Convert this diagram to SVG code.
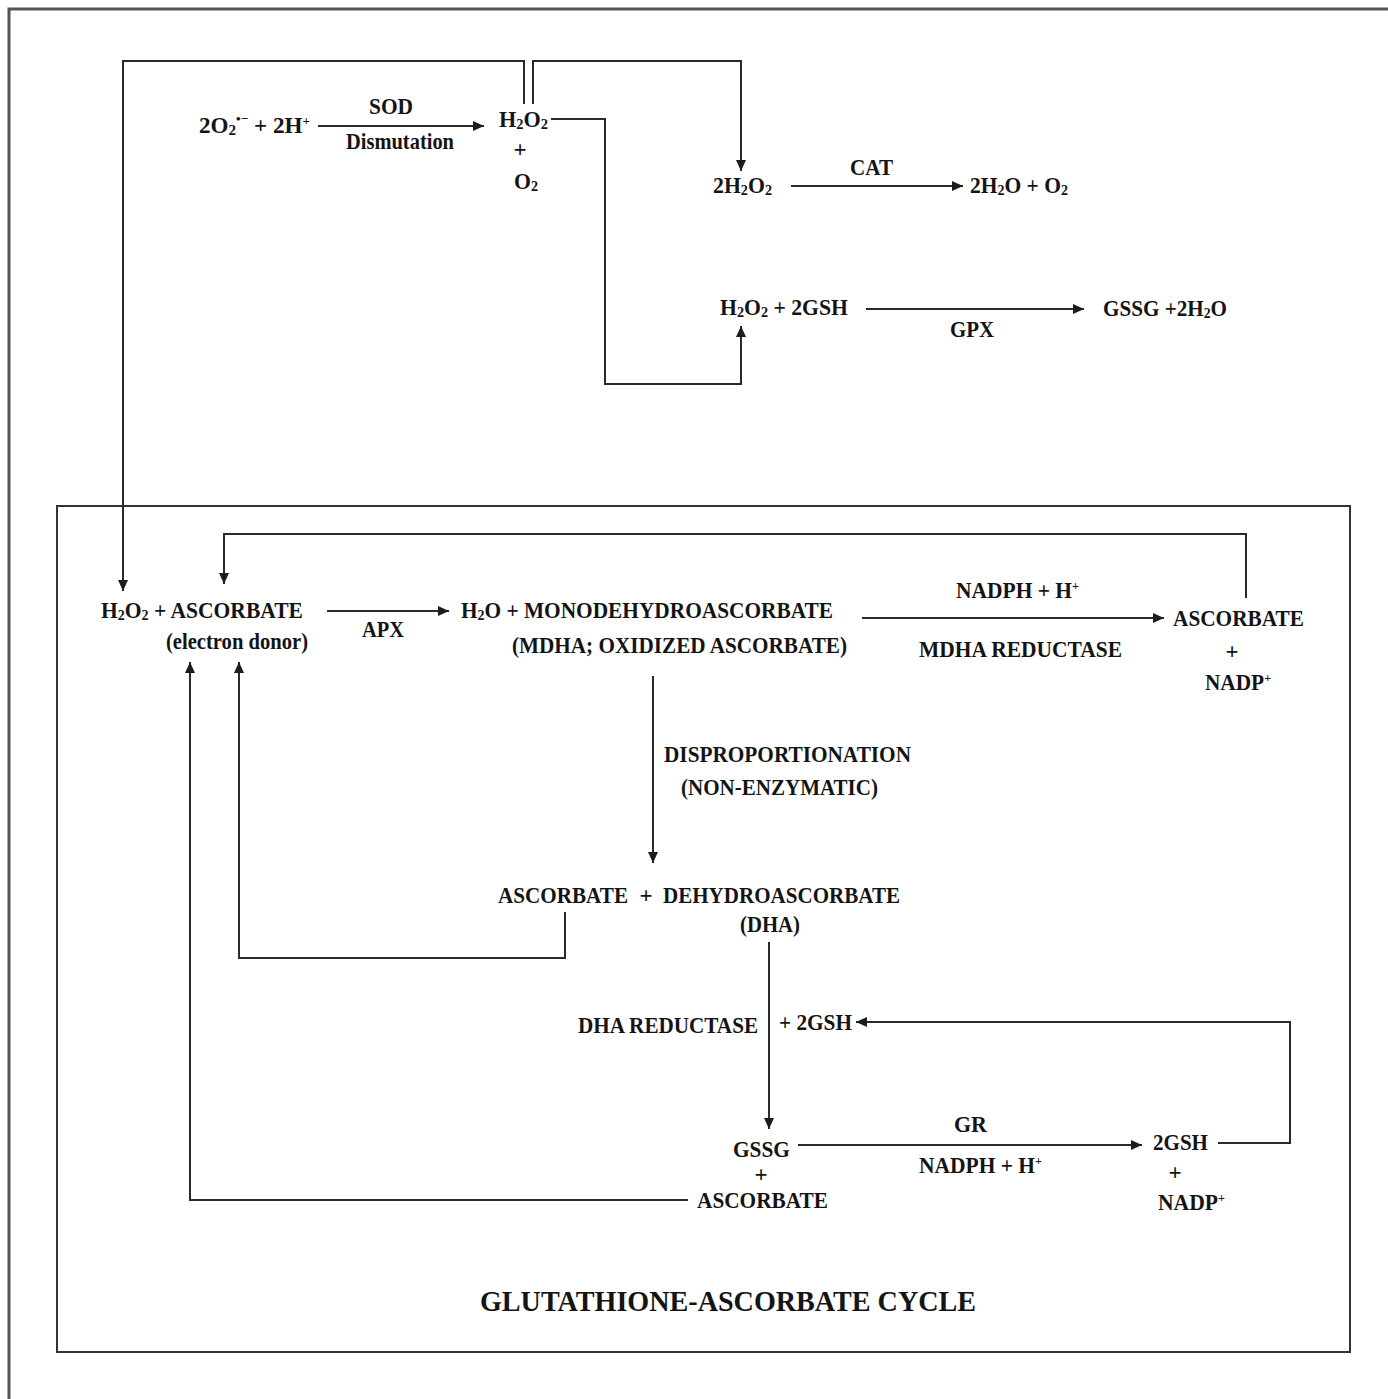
<svg xmlns="http://www.w3.org/2000/svg" width="1388" height="1399" viewBox="0 0 1388 1399">
  <style>
    .t { font-family: "Liberation Serif", "Times New Roman", serif; font-weight: bold; font-size: 23px; fill: #141414; }
    .s { font-size: 15px; }
    .p { font-size: 13px; }
    .title { font-size: 29px; }
    .ar { fill: none; stroke: #2a2a2a; stroke-width: 2; marker-end: url(#head); }
    .frame { fill: none; stroke: #555; stroke-width: 3; }
    .box { fill: none; stroke: #333; stroke-width: 2; }
  </style>
  <defs>
    <marker id="head" markerUnits="userSpaceOnUse" markerWidth="12" markerHeight="10" refX="11" refY="5" orient="auto">
      <path d="M0,0 L11,5 L0,10 z" fill="#1c1c1c"/>
    </marker>
  </defs>

  <rect width="1388" height="1399" fill="#ffffff"/>

  <!-- page frame (top and left edges only) -->
  <path class="frame" d="M9,1399 V9 H1388"/>

  <!-- glutathione-ascorbate cycle panel -->
  <rect id="cycle-panel" class="box" x="57" y="506" width="1293" height="846"/>

  <!-- connectors -->
  <g id="connectors">
    <path class="ar" d="M318,126 H484"/>
    <path class="ar" d="M524,104 V61 H123 V591"/>
    <path class="ar" d="M533,104 V61 H741 V171"/>
    <path class="ar" d="M551,119 H605 V384 H741 V326"/>
    <path class="ar" d="M791,186 H963"/>
    <path class="ar" d="M866,309 H1084"/>
    <path class="ar" d="M327,611 H449"/>
    <path class="ar" d="M862,618 H1164"/>
    <path class="ar" d="M1246,598 V534 H224 V584"/>
    <path class="ar" d="M653,676 V863"/>
    <path class="ar" d="M565,912 V958 H239 V662"/>
    <path class="ar" d="M769,942 V1129"/>
    <path class="ar" d="M1218,1143 H1290 V1022 H856"/>
    <path class="ar" d="M798,1145 H1142"/>
    <path class="ar" d="M688,1200 H190 V662"/>
  </g>

  <!-- superoxide dismutation -->
  <g id="superoxide">
    <text class="t" x="199" y="133" textLength="111" lengthAdjust="spacingAndGlyphs">2O<tspan class="s" dy="2">2</tspan><tspan class="p" dy="-12">•−</tspan><tspan dy="10"> + 2H</tspan><tspan class="p" dy="-8">+</tspan></text>
  </g>
  <g id="sod-label">
    <text class="t" x="369" y="114" textLength="44" lengthAdjust="spacingAndGlyphs">SOD</text>
    <text class="t" x="346" y="149" textLength="108" lengthAdjust="spacingAndGlyphs">Dismutation</text>
  </g>
  <g id="h2o2-o2">
    <text class="t" x="499" y="127" textLength="49" lengthAdjust="spacingAndGlyphs">H<tspan class="s" dy="2">2</tspan><tspan dy="-2">O</tspan><tspan class="s" dy="2">2</tspan></text>
    <text class="t" x="520" y="157" text-anchor="middle">+</text>
    <text class="t" x="514" y="189" textLength="24" lengthAdjust="spacingAndGlyphs">O<tspan class="s" dy="2">2</tspan></text>
  </g>

  <!-- catalase branch -->
  <g id="cat-substrate">
    <text class="t" x="713" y="193" textLength="59" lengthAdjust="spacingAndGlyphs">2H<tspan class="s" dy="2">2</tspan><tspan dy="-2">O</tspan><tspan class="s" dy="2">2</tspan></text>
  </g>
  <g id="cat-label">
    <text class="t" x="850" y="175" textLength="43" lengthAdjust="spacingAndGlyphs">CAT</text>
  </g>
  <g id="cat-product">
    <text class="t" x="970" y="193" textLength="98" lengthAdjust="spacingAndGlyphs">2H<tspan class="s" dy="2">2</tspan><tspan dy="-2">O + O</tspan><tspan class="s" dy="2">2</tspan></text>
  </g>

  <!-- glutathione peroxidase branch -->
  <g id="gpx-substrate">
    <text class="t" x="720" y="315" textLength="128" lengthAdjust="spacingAndGlyphs">H<tspan class="s" dy="2">2</tspan><tspan dy="-2">O</tspan><tspan class="s" dy="2">2</tspan><tspan dy="-2"> + 2GSH</tspan></text>
  </g>
  <g id="gpx-label">
    <text class="t" x="950" y="337" textLength="44" lengthAdjust="spacingAndGlyphs">GPX</text>
  </g>
  <g id="gpx-product">
    <text class="t" x="1103" y="316" textLength="124" lengthAdjust="spacingAndGlyphs">GSSG +2H<tspan class="s" dy="2">2</tspan><tspan dy="-2">O</tspan></text>
  </g>

  <!-- ascorbate peroxidase -->
  <g id="apx-substrate">
    <text class="t" x="101" y="618" textLength="202" lengthAdjust="spacingAndGlyphs">H<tspan class="s" dy="2">2</tspan><tspan dy="-2">O</tspan><tspan class="s" dy="2">2</tspan><tspan dy="-2"> + ASCORBATE</tspan></text>
    <text class="t" x="166" y="649" textLength="142" lengthAdjust="spacingAndGlyphs">(electron donor)</text>
  </g>
  <g id="apx-label">
    <text class="t" x="362" y="637" textLength="42" lengthAdjust="spacingAndGlyphs">APX</text>
  </g>
  <g id="mdha">
    <text class="t" x="461" y="618" textLength="372" lengthAdjust="spacingAndGlyphs">H<tspan class="s" dy="2">2</tspan><tspan dy="-2">O + MONODEHYDROASCORBATE</tspan></text>
    <text class="t" x="512" y="653" textLength="335" lengthAdjust="spacingAndGlyphs">(MDHA; OXIDIZED ASCORBATE)</text>
  </g>
  <g id="mdhar-label">
    <text class="t" x="956" y="598" textLength="123" lengthAdjust="spacingAndGlyphs">NADPH + H<tspan class="p" dy="-8">+</tspan></text>
    <text class="t" x="919" y="657" textLength="203" lengthAdjust="spacingAndGlyphs">MDHA REDUCTASE</text>
  </g>
  <g id="ascorbate-nadp">
    <text class="t" x="1173" y="626" textLength="131" lengthAdjust="spacingAndGlyphs">ASCORBATE</text>
    <text class="t" x="1232" y="659" text-anchor="middle">+</text>
    <text class="t" x="1205" y="690" textLength="66" lengthAdjust="spacingAndGlyphs">NADP<tspan class="p" dy="-8">+</tspan></text>
  </g>

  <!-- disproportionation -->
  <g id="dispro-label">
    <text class="t" x="664" y="762" textLength="247" lengthAdjust="spacingAndGlyphs">DISPROPORTIONATION</text>
    <text class="t" x="681" y="795" textLength="197" lengthAdjust="spacingAndGlyphs">(NON-ENZYMATIC)</text>
  </g>
  <g id="asc-dha">
    <text class="t" x="498" y="903" textLength="130" lengthAdjust="spacingAndGlyphs">ASCORBATE</text>
    <text class="t" x="646" y="903" text-anchor="middle">+</text>
    <text class="t" x="663" y="903" textLength="237" lengthAdjust="spacingAndGlyphs">DEHYDROASCORBATE</text>
    <text class="t" x="740" y="932" textLength="60" lengthAdjust="spacingAndGlyphs">(DHA)</text>
  </g>

  <!-- dehydroascorbate reductase -->
  <g id="dhar-label">
    <text class="t" x="578" y="1033" textLength="180" lengthAdjust="spacingAndGlyphs">DHA REDUCTASE</text>
  </g>
  <g id="gsh-input">
    <text class="t" x="779" y="1030" textLength="73" lengthAdjust="spacingAndGlyphs">+ 2GSH</text>
  </g>
  <g id="gssg-asc">
    <text class="t" x="733" y="1157" textLength="57" lengthAdjust="spacingAndGlyphs">GSSG</text>
    <text class="t" x="761" y="1182" text-anchor="middle">+</text>
    <text class="t" x="697" y="1208" textLength="131" lengthAdjust="spacingAndGlyphs">ASCORBATE</text>
  </g>

  <!-- glutathione reductase -->
  <g id="gr-label">
    <text class="t" x="954" y="1132" textLength="33" lengthAdjust="spacingAndGlyphs">GR</text>
    <text class="t" x="919" y="1173" textLength="123" lengthAdjust="spacingAndGlyphs">NADPH + H<tspan class="p" dy="-8">+</tspan></text>
  </g>
  <g id="gsh-nadp">
    <text class="t" x="1153" y="1150" textLength="55" lengthAdjust="spacingAndGlyphs">2GSH</text>
    <text class="t" x="1175" y="1180" text-anchor="middle">+</text>
    <text class="t" x="1158" y="1210" textLength="67" lengthAdjust="spacingAndGlyphs">NADP<tspan class="p" dy="-8">+</tspan></text>
  </g>

  <g id="cycle-title">
    <text class="t title" x="480" y="1311" textLength="496" lengthAdjust="spacingAndGlyphs">GLUTATHIONE-ASCORBATE CYCLE</text>
  </g>
</svg>
